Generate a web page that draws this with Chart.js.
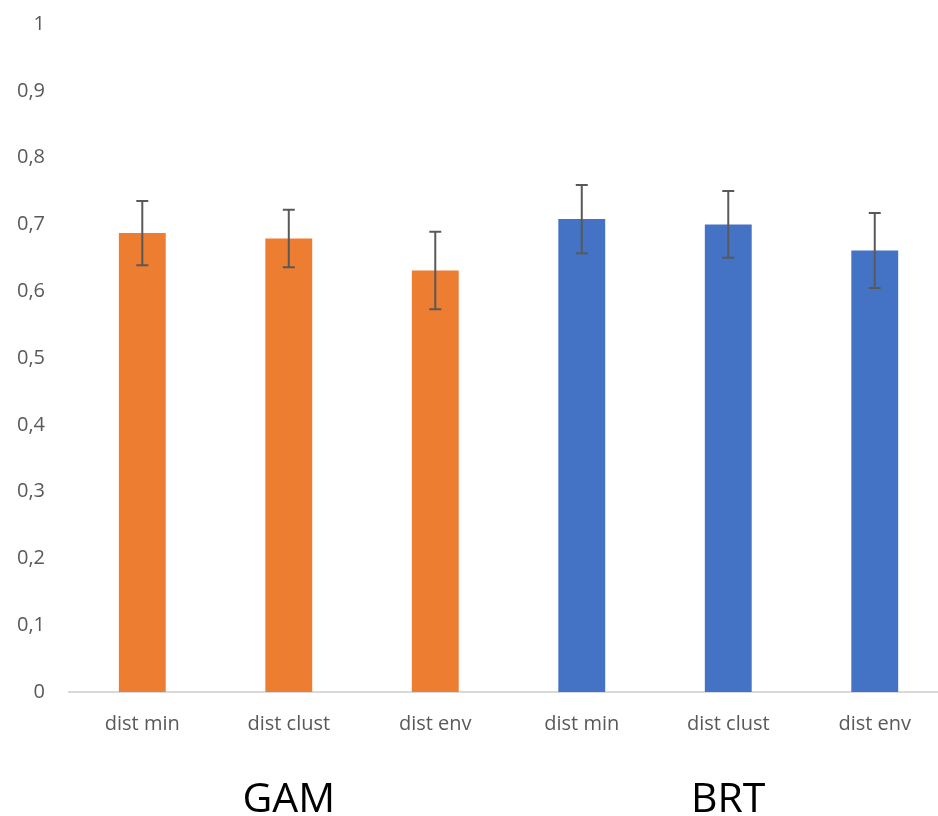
<!DOCTYPE html>
<html>
<head>
<meta charset="utf-8">
<script src="https://cdn.jsdelivr.net/npm/chart.js@4"></script>
<style>
  html, body { margin: 0; padding: 0; background: #fff; overflow: hidden; }
  #wrap { width: 938px; height: 816px; overflow: hidden; }
</style>
</head>
<body>
<div id="wrap"><canvas id="c" width="948" height="816"></canvas></div>
<script>
const categories = ["dist min", "dist clust", "dist env", "dist min", "dist clust", "dist env"];
const groupLabels = ["GAM", "BRT"];
const values = [0.687, 0.679, 0.631, 0.708, 0.700, 0.661];
const errors = [0.048, 0.043, 0.058, 0.051, 0.050, 0.056];
const barColors = ["#ED7D31", "#ED7D31", "#ED7D31", "#4472C4", "#4472C4", "#4472C4"];
const yTicks = [0, 0.1, 0.2, 0.3, 0.4, 0.5, 0.6, 0.7, 0.8, 0.9, 1];

const errorBarPlugin = {
  id: 'errorBars',
  afterDatasetsDraw(chart) {
    const ctx = chart.ctx;
    const meta = chart.getDatasetMeta(0);
    const y = chart.scales.y;
    ctx.save();
    ctx.strokeStyle = '#595959';
    ctx.lineWidth = 2;
    meta.data.forEach((bar, i) => {
      const x = bar.x;
      const top = y.getPixelForValue(values[i] + errors[i]);
      const bot = y.getPixelForValue(values[i] - errors[i]);
      ctx.beginPath();
      ctx.moveTo(x, top); ctx.lineTo(x, bot);
      ctx.moveTo(x - 6, top); ctx.lineTo(x + 6, top);
      ctx.moveTo(x - 6, bot); ctx.lineTo(x + 6, bot);
      ctx.stroke();
    });
    ctx.restore();
  }
};

new Chart(document.getElementById('c'), {
  type: 'bar',
  data: {
    labels: categories,
    datasets: [{
      data: values,
      backgroundColor: barColors,
      borderWidth: 0,
      barPercentage: 0.32,
      categoryPercentage: 1.0
    }]
  },
  options: {
    responsive: false,
    animation: false,
    layout: { padding: { top: -8, right: 0, left: 1, bottom: -29 } },
    plugins: { legend: { display: false }, tooltip: { enabled: false } },
    scales: {
      y: {
        min: 0, max: 1,
        afterBuildTicks(scale) { scale.ticks = yTicks.map(v => ({ value: v })); },
        grid: { display: false },
        border: { display: false },
        ticks: {
          padding: 16,
          color: '#595959',
          font: { family: 'Open Sans', size: 20, lineHeight: 0.8 },
          callback: (v) => String(Math.round(v * 10) / 10).replace('.', ',')
        }
      },
      x: {
        grid: { display: false },
        border: { display: true, color: '#d9d9d9', width: 2 },
        ticks: {
          padding: 12,
          color: '#595959',
          font: { family: 'Open Sans', size: 20 },
          maxRotation: 0, autoSkip: false
        }
      },
      x2: {
        type: 'category',
        position: 'bottom',
        labels: groupLabels,
        offset: true,
        grid: { display: false },
        border: { display: false },
        ticks: {
          padding: 26,
          color: '#000000',
          font: { family: 'Open Sans', size: 41, lineHeight: 0.9 },
          maxRotation: 0, autoSkip: false
        }
      }
    }
  },
  plugins: [errorBarPlugin]
});
</script>
</body>
</html>
